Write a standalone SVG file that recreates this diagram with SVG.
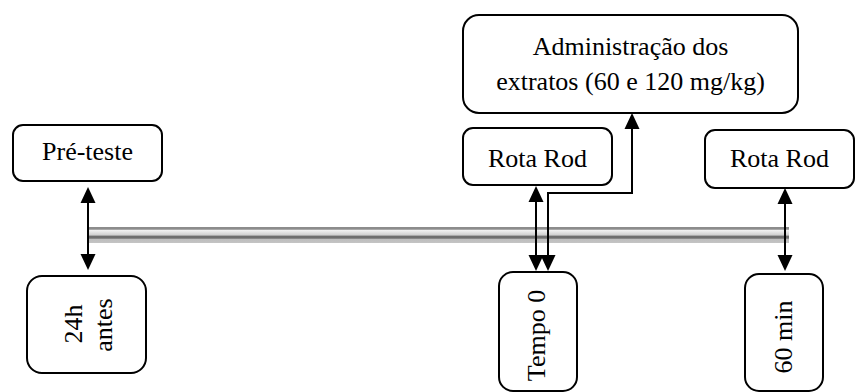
<svg xmlns="http://www.w3.org/2000/svg" width="856" height="392" viewBox="0 0 856 392">
<defs>
<linearGradient id="pipe" x1="0" y1="0" x2="0" y2="1">
<stop offset="0" stop-color="#8c8c8c"/>
<stop offset="0.14" stop-color="#8c8c8c"/>
<stop offset="0.2" stop-color="#f2f2f2"/>
<stop offset="0.5" stop-color="#cfcfcf"/>
<stop offset="0.58" stop-color="#6e6e6e"/>
<stop offset="0.7" stop-color="#6e6e6e"/>
<stop offset="0.76" stop-color="#bdbdbd"/>
<stop offset="1" stop-color="#c4c4c4"/>
</linearGradient>
<marker id="ah" viewBox="0 0 16 16" markerWidth="16" markerHeight="16" refX="12" refY="8" orient="auto-start-reverse" markerUnits="userSpaceOnUse">
<path d="M0,0.5 L16,8 L0,15.5 z" fill="#000"/>
</marker>
</defs>
<style>
.box{fill:#fff;stroke:#000;stroke-width:2}
.t{font-family:"Liberation Serif","Times New Roman",serif;font-size:26px;fill:#000;text-anchor:middle}
.c{fill:none;stroke:#000;stroke-width:2;marker-start:url(#ah);marker-end:url(#ah)}
</style>
<g id="timeline">
<rect x="89" y="227" width="700" height="16" fill="url(#pipe)"/>
</g>
<g id="pre-teste">
<rect class="box" x="13" y="125" width="149" height="56" rx="10"/>
<text class="t" x="87.5" y="160">Pré-teste</text>
</g>
<g id="antes24h">
<rect class="box" x="27" y="276" width="119" height="97" rx="15"/>
<text class="t" transform="translate(82,324) rotate(-90)">24h</text>
<text class="t" transform="translate(112,325) rotate(-90)">antes</text>
</g>
<g id="administracao">
<rect class="box" x="463" y="15" width="335" height="98" rx="16"/>
<text class="t" x="630.5" y="55">Administração dos</text>
<text class="t" x="630.5" y="90">extratos (60 e 120 mg/kg)</text>
</g>
<g id="rotarod1">
<rect class="box" x="463" y="128" width="149" height="57" rx="10"/>
<text class="t" x="537.5" y="167">Rota Rod</text>
</g>
<g id="rotarod2">
<rect class="box" x="705" y="130" width="149" height="58" rx="10"/>
<text class="t" x="779.5" y="167">Rota Rod</text>
</g>
<g id="tempo0">
<rect class="box" x="499" y="272" width="78" height="119" rx="14"/>
<text class="t" transform="translate(545,335.5) rotate(-90)">Tempo 0</text>
</g>
<g id="min60">
<rect class="box" x="745" y="274" width="78" height="117" rx="14"/>
<text class="t" transform="translate(792,337) rotate(-90)">60 min</text>
</g>
<g id="connectors">
<line class="c" x1="88" y1="191" x2="88" y2="266"/>
<line class="c" x1="536" y1="190" x2="536" y2="267"/>
<polyline class="c" points="548,267 548,193 632,193 632,117"/>
<line class="c" x1="785" y1="192" x2="785" y2="267"/>
</g>
</svg>
